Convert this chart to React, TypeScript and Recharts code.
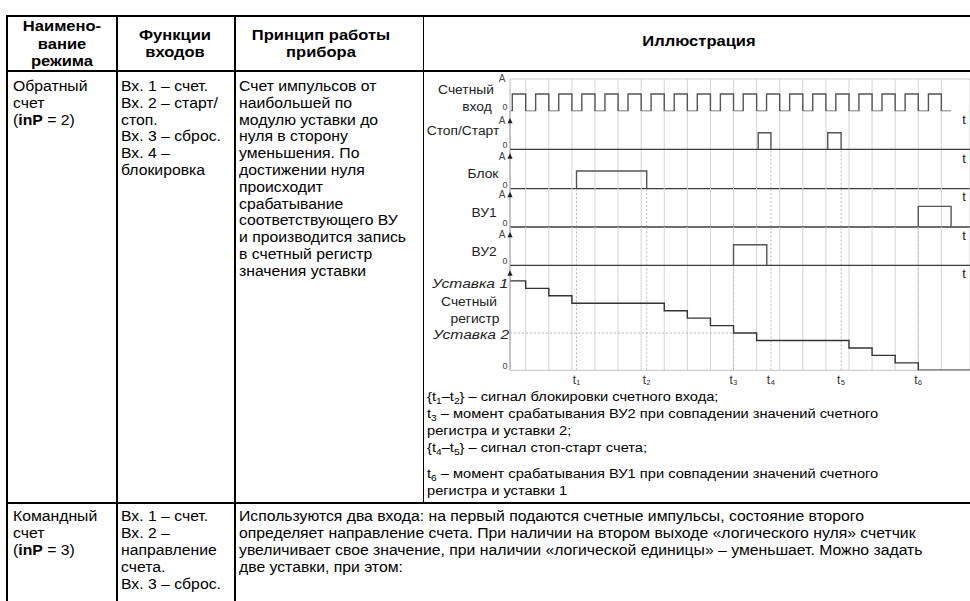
import React from 'react';
import { LineChart, Line, XAxis, YAxis, ReferenceLine, CartesianGrid } from 'recharts';

// ---------------- data ----------------
const X_MIN = 0.32;
const X_MAX = 20.24;
const gridTicks = [1, 2, 3, 4, 5, 6, 7, 8, 9, 10, 11, 12, 13, 14, 15, 16, 17, 18, 19];
const countRise = [0.42, 1.43, 2.43, 3.43, 4.43, 5.43, 6.43, 7.43, 8.43, 9.43, 10.42, 11.43, 12.43, 13.43, 14.43, 15.43, 16.43, 17.43, 18.44];
const countFall = [1, 2, 3, 4, 5, 6, 7, 8, 9, 10, 11, 12, 13, 14, 15, 16, 17, 18, 19];
const countEnd = 19.42;
const stopRise = [11.07, 14.08];
const stopFall = [11.62, 14.66];
const blockRise = [3.2];
const blockFall = [6.24];
const vu1Rise = [18];
const vu1Fall = [19.42];
const vu2Rise = [10];
const vu2Fall = [11.44];
const regTimes = [0.32, 1, 2, 3, 7, 8, 9, 10, 11, 15, 16, 17, 18, 20.24];
const regValues = [12, 11, 10, 9, 8, 7, 6, 5, 4, 3, 2, 1, 0, 0];
const setpoint2 = 5;
const setpoint2End = 10;
const tMarks = [3.2, 6.24, 10, 11.62, 14.66, 18];
const tLabels = ['t₁', 't₂', 't₃', 't₄', 't₅', 't₆'];

const headerCol1 = ['Наимено-', 'вание', 'режима'];
const headerCol2 = ['Функции', 'входов'];
const headerCol3 = ['Принцип работы', 'прибора'];
const headerCol4 = 'Иллюстрация';
const row1Col2 = ['Вх. 1 – счет.', 'Вх. 2 – старт/', 'стоп.', 'Вх. 3 – сброс.', 'Вх. 4 –', 'блокировка'];
const row1Col3 = ['Счет импульсов от', 'наибольшей по', 'модулю уставки до', 'нуля в сторону', 'уменьшения. По', 'достижении нуля', 'происходит', 'срабатывание', 'соответствующего ВУ', 'и производится запись', 'в счетный регистр', 'значения уставки'];
const row2Col2 = ['Вх. 1 – счет.', 'Вх. 2 –', 'направление', 'счета.', 'Вх. 3 – сброс.'];
const row2Col3 = [
  'Используются два входа: на первый подаются счетные импульсы, состояние второго',
  'определяет направление счета. При наличии на втором выходе «логического нуля» счетчик',
  'увеличивает свое значение, при наличии «логической единицы» – уменьшает. Можно задать',
  'две уставки, при этом:',
];

type Pt = { x: number; y: number | null };

function pulseSeries(rise: number[], fall: number[]): Pt[] {
  const out: Pt[] = [];
  rise.forEach((r, i) => {
    out.push({ x: r, y: 0 }, { x: r, y: 1 }, { x: fall[i], y: 0 }, { x: fall[i], y: null });
  });
  return out;
}
function trainSeries(rise: number[], fall: number[], start: number, end: number): Pt[] {
  const out: Pt[] = [{ x: start, y: 0 }];
  rise.forEach((r, i) => {
    out.push({ x: r, y: 1 }, { x: fall[i], y: 0 });
  });
  out.push({ x: end, y: 0 });
  return out;
}
const countData = trainSeries(countRise, countFall, X_MIN, countEnd);
const stopData = pulseSeries(stopRise, stopFall);
const blockData = pulseSeries(blockRise, blockFall);
const vu1Data = pulseSeries(vu1Rise, vu1Fall);
const vu2Data = pulseSeries(vu2Rise, vu2Fall);
const regData: Pt[] = regTimes.map((t, i) => ({ x: t, y: regValues[i] }));

// ---------------- styling ----------------
const FONT = '"Liberation Sans", Arial, Helvetica, sans-serif';
const SX = 1.125;
const HSX = 1.18;

function T(props: { x: number; y: number; children: React.ReactNode; bold?: boolean; italic?: boolean; size?: number; center?: boolean; color?: string; sx?: number }) {
  const { x, y, children, bold, italic, size = 14, center, color = '#000', sx = SX } = props;
  return (
    <div
      style={{
        position: 'absolute',
        left: x,
        top: y - 9,
        height: 18,
        lineHeight: '18px',
        fontSize: size,
        fontFamily: FONT,
        fontWeight: bold ? 700 : 400,
        fontStyle: italic ? 'italic' : 'normal',
        whiteSpace: 'nowrap',
        color,
        transform: center ? `translateX(-50%) scaleX(${sx})` : `scaleX(${sx})`,
        transformOrigin: center ? 'center center' : 'left center',
      }}
    >
      {children}
    </div>
  );
}

function HL({ x1, x2, y, w = 2 }: { x1: number; x2: number; y: number; w?: number }) {
  return <div style={{ position: 'absolute', left: x1, top: y - w / 2, width: x2 - x1, height: w, background: '#000' }} />;
}
function VL({ x, y1, y2, w = 1.6 }: { x: number; y1: number; y2: number; w?: number }) {
  return <div style={{ position: 'absolute', left: x - w / 2, top: y1, width: w, height: y2 - y1, background: '#000' }} />;
}

type BandProps = {
  top: number;
  h: number;
  yMax: number;
  marker: number;
  showA: boolean;
  showArrow: boolean;
  series: Pt[];
  stroke: string;
  dashIdx: number[];
  base: 'dark' | 'light' | 'none';
  topLine?: boolean;
  labels?: boolean;
  setpoint?: boolean;
  axisColor: string;
};

function Band(p: BandProps) {
  const padT = 10;
  const padB = p.labels ? 26 : 10;
  const renderTick = (props: any) => {
    const { x, y, payload } = props;
    if (payload.value === 0) {
      return (
        <text x={x - 5} y={y - 4} fontSize={9} fill="#444" textAnchor="middle" dominantBaseline="central" fontFamily={FONT}>
          0
        </text>
      );
    }
    return (
      <g>
        {p.showA && (
          <text x={x - 8} y={y} fontSize={10} fill="#444" textAnchor="middle" dominantBaseline="central" fontFamily={FONT}>
            A
          </text>
        )}
        {p.showArrow && <path d={`M${x - 2.6},${y + 2.6}L${x},${y - 2.8}L${x + 2.6},${y + 2.6}Z`} fill="#222" />}
      </g>
    );
  };
  return (
    <div style={{ position: 'absolute', left: 420, top: p.top - padT }}>
      <LineChart width={550} height={p.h + padT + padB} margin={{ top: padT, right: 0, bottom: padB, left: 0 }}>
        <CartesianGrid vertical horizontal={false} stroke="#d4d4d4" strokeWidth={1} />
        <XAxis type="number" dataKey="x" domain={[X_MIN, X_MAX]} ticks={gridTicks} hide allowDataOverflow />
        <YAxis
          type="number"
          domain={[0, p.yMax]}
          ticks={[0, p.marker]}
          interval={0}
          width={90}
          tickSize={0}
          tickMargin={0}
          tickLine={false}
          axisLine={{ stroke: p.axisColor, strokeWidth: 1 }}
          tick={renderTick}
          allowDataOverflow
        />
        {p.topLine && <ReferenceLine y={p.yMax} stroke="#cfcfcf" strokeWidth={1} />}
        {p.dashIdx.map((i) => (
          <ReferenceLine
            key={i}
            x={tMarks[i]}
            stroke="#b8b8b8"
            strokeDasharray="2 2"
            strokeWidth={1}
            label={p.labels ? { value: tLabels[i], position: 'bottom', offset: 5, fontSize: 12, fill: '#333', fontFamily: FONT } : undefined}
          />
        ))}
        {p.setpoint && (
          <ReferenceLine
            segment={[
              { x: X_MIN, y: setpoint2 },
              { x: setpoint2End, y: setpoint2 },
            ]}
            stroke="#b8b8b8"
            strokeDasharray="2 2"
            strokeWidth={1}
          />
        )}
        {p.base !== 'none' && <ReferenceLine y={0} stroke={p.base === 'dark' ? '#3c3c3c' : '#c4c4c4'} strokeWidth={p.base === 'dark' ? 1.4 : 1} />}
        <Line
          data={p.series}
          dataKey="y"
          type="stepAfter"
          stroke={p.stroke}
          strokeWidth={1.4}
          dot={false}
          activeDot={false}
          connectNulls={false}
          isAnimationActive={false}
        />
      </LineChart>
    </div>
  );
}

const LBL = 12;
const LSX = 1.15;
const ISX = 1.3;
const FSX = 1.22;

export default function App() {
  const b0 = 86;
  const bd = 16.8;
  const r0 = 516;
  const rd = 16.9;
  const f0 = 397;
  const fd = 17;
  const sub = { fontSize: '0.7em' };
  return (
    <div style={{ position: 'absolute', left: 0, top: 0, width: 970, height: 601, overflow: 'hidden', background: '#fff', fontFamily: FONT }}>
      {/* table rules */}
      <HL x1={6} x2={970} y={16} />
      <HL x1={6} x2={970} y={70.5} />
      <HL x1={6} x2={970} y={502.5} />
      <VL x={7} y1={15} y2={601} />
      <VL x={117} y1={15} y2={601} />
      <VL x={235} y1={15} y2={601} />
      <VL x={423.3} y1={15} y2={503} />

      {/* header */}
      {headerCol1.map((s, i) => (
        <T key={'h1' + i} x={62} y={26 + i * 17.5} bold center sx={HSX}>
          {s}
        </T>
      ))}
      {headerCol2.map((s, i) => (
        <T key={'h2' + i} x={175} y={35 + i * 17} bold center sx={HSX}>
          {s}
        </T>
      ))}
      {headerCol3.map((s, i) => (
        <T key={'h3' + i} x={321} y={35 + i * 17} bold center sx={HSX}>
          {s}
        </T>
      ))}
      <T x={699} y={41} bold center sx={HSX}>
        {headerCol4}
      </T>

      {/* row 1 */}
      <T x={13} y={b0}>Обратный</T>
      <T x={13} y={b0 + bd}>счет</T>
      <T x={13} y={b0 + 2 * bd}>
        (<b>inP</b> = 2)
      </T>
      {row1Col2.map((s, i) => (
        <T key={'r1c2' + i} x={121} y={b0 + i * bd}>
          {s}
        </T>
      ))}
      {row1Col3.map((s, i) => (
        <T key={'r1c3' + i} x={239} y={b0 + i * bd}>
          {s}
        </T>
      ))}

      {/* diagram labels */}
      <T x={466} y={90} size={LBL} sx={LSX} center color="#222">Счетный</T>
      <T x={477} y={107} size={LBL} sx={LSX} center color="#222">вход</T>
      <T x={463} y={131} size={LBL} sx={LSX} center color="#222">Стоп/Старт</T>
      <T x={483} y={174} size={LBL} sx={LSX} center color="#222">Блок</T>
      <T x={484} y={213} size={LBL} sx={LSX} center color="#222">ВУ1</T>
      <T x={484} y={252} size={LBL} sx={LSX} center color="#222">ВУ2</T>
      <T x={470} y={284} size={LBL} sx={ISX} center italic color="#222">Уставка 1</T>
      <T x={469} y={302} size={LBL} sx={LSX} center color="#222">Счетный</T>
      <T x={475} y={319} size={LBL} sx={LSX} center color="#222">регистр</T>
      <T x={471} y={335} size={LBL} sx={ISX} center italic color="#222">Уставка 2</T>
      {[120, 159, 197, 236, 274].map((y, i) => (
        <T key={'t' + i} x={964} y={y} size={13} sx={1} center color="#222">t</T>
      ))}

      {/* timing diagram bands */}
      <Band top={79} h={32.3} yMax={1.87} marker={1.87} showA showArrow={false} series={countData} stroke="#555" dashIdx={[]} base="none" topLine axisColor="#cfcfcf" />
      <Band top={111.3} h={38.4} yMax={2.3} marker={1.72} showA showArrow series={stopData} stroke="#555" dashIdx={[]} base="dark" axisColor="#a0a0a0" />
      <Band top={149.7} h={38.6} yMax={2.19} marker={1.84} showA showArrow series={blockData} stroke="#555" dashIdx={[3, 4]} base="dark" axisColor="#a0a0a0" />
      <Band top={188.3} h={39} yMax={1.89} marker={1.57} showA showArrow series={vu1Data} stroke="#555" dashIdx={[0, 1, 3, 4]} base="dark" axisColor="#a0a0a0" />
      <Band top={227.3} h={38.4} yMax={1.855} marker={1.48} showA showArrow series={vu2Data} stroke="#555" dashIdx={[0, 1, 3, 4, 5]} base="dark" axisColor="#a0a0a0" />
      <Band top={265.7} h={104.3} yMax={14} marker={13.04} showA={false} showArrow series={regData} stroke="#333" dashIdx={[0, 1, 2, 3, 4, 5]} base="light" labels setpoint axisColor="#a0a0a0" />

      {/* footnotes */}
      <T x={427} y={f0} size={LBL} sx={FSX}>
        {'{'}t<sub style={sub}>1</sub>–t<sub style={sub}>2</sub>{'}'} – сигнал блокировки счетного входа;
      </T>
      <T x={427} y={f0 + fd} size={LBL} sx={FSX}>
        t<sub style={sub}>3</sub> – момент срабатывания ВУ2 при совпадении значений счетного
      </T>
      <T x={427} y={f0 + 2 * fd} size={LBL} sx={FSX}>
        регистра и уставки 2;
      </T>
      <T x={427} y={f0 + 3 * fd} size={LBL} sx={FSX}>
        {'{'}t<sub style={sub}>4</sub>–t<sub style={sub}>5</sub>{'}'} – сигнал стоп-старт счета;
      </T>
      <T x={427} y={f0 + 4.5 * fd} size={LBL} sx={FSX}>
        t<sub style={sub}>6</sub> – момент срабатывания ВУ1 при совпадении значений счетного
      </T>
      <T x={427} y={f0 + 5.5 * fd} size={LBL} sx={FSX}>
        регистра и уставки 1
      </T>

      {/* row 2 */}
      <T x={13} y={r0}>Командный</T>
      <T x={13} y={r0 + rd}>счет</T>
      <T x={13} y={r0 + 2 * rd}>
        (<b>inP</b> = 3)
      </T>
      {row2Col2.map((s, i) => (
        <T key={'r2c2' + i} x={121} y={r0 + i * rd}>
          {s}
        </T>
      ))}
      {row2Col3.map((s, i) => (
        <T key={'r2c3' + i} x={239} y={r0 + i * rd}>
          {s}
        </T>
      ))}
    </div>
  );
}
